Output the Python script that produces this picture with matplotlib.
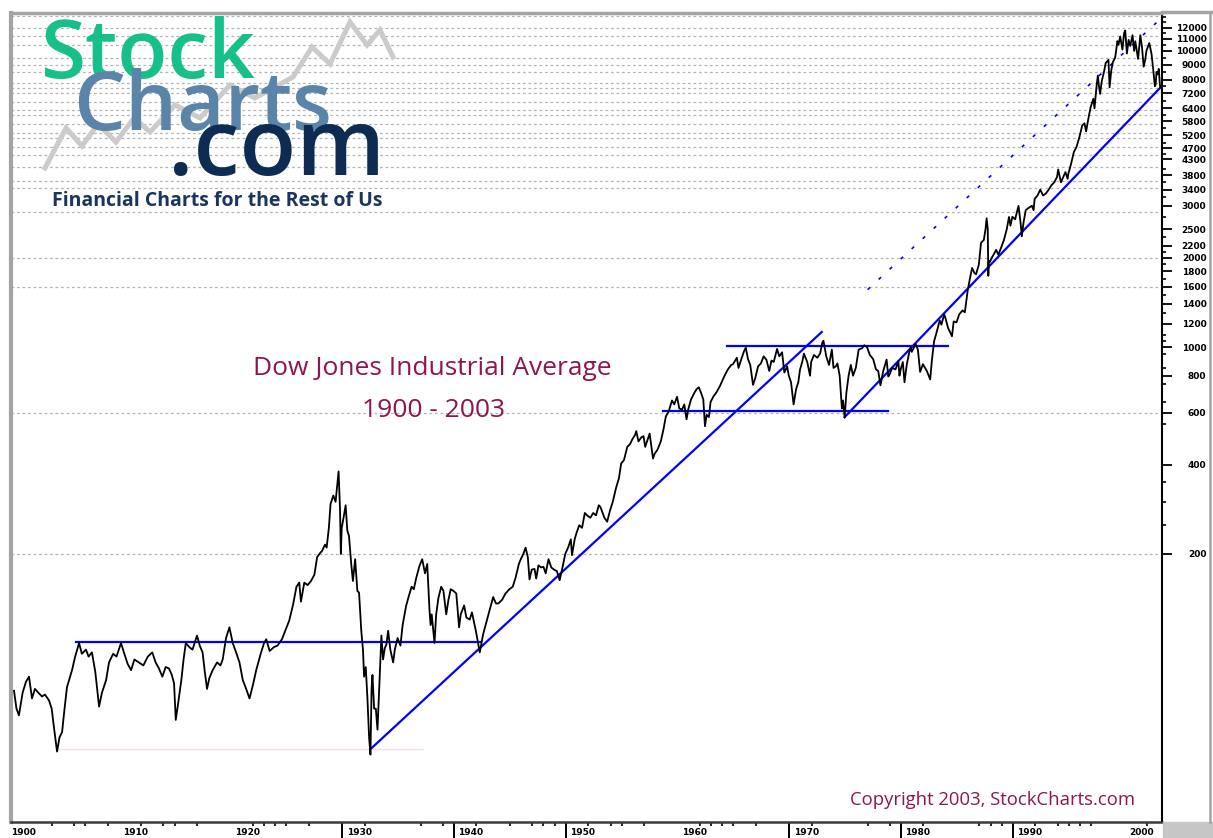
import matplotlib
matplotlib.use("Agg")
import matplotlib.pyplot as plt
import numpy as np
from matplotlib.lines import Line2D
from matplotlib.patches import Rectangle
from matplotlib.ticker import FixedLocator, NullFormatter

W, H = 1213, 838

# Dow Jones Industrial Average: decimal year, close
years = [
    1900.63, 1900.85, 1901.07, 1901.4, 1901.7, 1901.97, 1902.24, 1902.5, 1902.8, 1903.13,
    1903.4, 1903.76, 1904.0, 1904.2, 1904.48, 1904.7, 1904.93, 1905.15, 1905.37, 1905.6,
    1905.82, 1906.1, 1906.45, 1906.7, 1907.07, 1907.3, 1907.6, 1907.9, 1908.24, 1908.5,
    1908.87, 1909.13, 1909.5, 1909.8, 1910.2, 1910.5, 1910.8, 1911.1, 1911.4, 1911.8,
    1912.2, 1912.6, 1913.0, 1913.3, 1913.6, 1913.9, 1914.2, 1914.5, 1914.75, 1914.95,
    1915.1, 1915.3, 1915.6, 1915.8, 1916.0, 1916.3, 1916.6, 1917.0, 1917.25, 1917.5,
    1917.7, 1917.9, 1918.1, 1918.4, 1918.8, 1919.1, 1919.3, 1919.6, 1919.9, 1920.2,
    1920.5, 1920.8, 1921.1, 1921.4, 1921.7, 1922.0, 1922.3, 1922.7, 1923.0, 1923.2,
    1923.5, 1923.9, 1924.2, 1924.6, 1924.9, 1925.25, 1925.6, 1925.9, 1926.15, 1926.3,
    1926.6, 1926.9, 1927.2, 1927.5, 1927.75, 1927.95, 1928.2, 1928.45, 1928.6, 1928.8,
    1928.95, 1929.2, 1929.4, 1929.67, 1929.8, 1929.87, 1929.95, 1930.15, 1930.3, 1930.45,
    1930.6, 1930.8, 1930.95, 1931.15, 1931.35, 1931.5, 1931.7, 1931.85, 1931.95, 1932.1,
    1932.25, 1932.4, 1932.52, 1932.62, 1932.7, 1932.85, 1933.0, 1933.15, 1933.35, 1933.5,
    1933.65, 1933.8, 1933.95, 1934.1, 1934.3, 1934.55, 1934.7, 1934.95, 1935.2, 1935.4,
    1935.7, 1935.95, 1936.2, 1936.4, 1936.6, 1936.9, 1937.15, 1937.4, 1937.6, 1937.8,
    1937.9, 1938.0, 1938.25, 1938.4, 1938.6, 1938.85, 1939.05, 1939.3, 1939.5, 1939.7,
    1939.95, 1940.2, 1940.45, 1940.6, 1940.9, 1941.1, 1941.4, 1941.6, 1941.95, 1942.3,
    1942.6, 1942.9, 1943.2, 1943.5, 1943.75, 1943.95, 1944.3, 1944.6, 1944.95, 1945.25,
    1945.5, 1945.8, 1946.0, 1946.2, 1946.4, 1946.6, 1946.75, 1946.95, 1947.2, 1947.35,
    1947.55, 1947.8, 1948.0, 1948.2, 1948.45, 1948.7, 1948.95, 1949.2, 1949.45, 1949.7,
    1949.95, 1950.2, 1950.45, 1950.55, 1950.8, 1950.95, 1951.2, 1951.45, 1951.7, 1951.95,
    1952.2, 1952.45, 1952.7, 1952.95, 1953.1, 1953.45, 1953.7, 1953.95, 1954.2, 1954.5,
    1954.75, 1954.95, 1955.2, 1955.5, 1955.75, 1955.95, 1956.2, 1956.3, 1956.5, 1956.75,
    1956.95, 1957.1, 1957.5, 1957.8, 1957.95, 1958.2, 1958.5, 1958.75, 1958.95, 1959.2,
    1959.5, 1959.7, 1959.95, 1960.15, 1960.4, 1960.6, 1960.8, 1960.95, 1961.2, 1961.5,
    1961.7, 1961.9, 1962.1, 1962.3, 1962.45, 1962.6, 1962.8, 1962.95, 1963.2, 1963.5,
    1963.8, 1963.95, 1964.2, 1964.5, 1964.8, 1964.95, 1965.3, 1965.45, 1965.7, 1965.95,
    1966.1, 1966.3, 1966.5, 1966.75, 1966.95, 1967.2, 1967.45, 1967.7, 1967.95, 1968.2,
    1968.4, 1968.6, 1968.9, 1969.1, 1969.35, 1969.55, 1969.8, 1969.95, 1970.15, 1970.38,
    1970.6, 1970.8, 1970.95, 1971.15, 1971.3, 1971.6, 1971.85, 1971.95, 1972.2, 1972.5,
    1972.75, 1972.95, 1973.05, 1973.3, 1973.55, 1973.8, 1973.95, 1974.15, 1974.3, 1974.5,
    1974.7, 1974.8, 1974.95, 1975.1, 1975.3, 1975.5, 1975.7, 1975.95, 1976.2, 1976.5,
    1976.7, 1976.95, 1977.2, 1977.5, 1977.75, 1977.95, 1978.15, 1978.4, 1978.7, 1978.85,
    1978.95, 1979.2, 1979.5, 1979.75, 1979.85, 1979.95, 1980.15, 1980.3, 1980.5, 1980.7,
    1980.85, 1980.95, 1981.3, 1981.5, 1981.7, 1981.95, 1982.3, 1982.6, 1982.75, 1982.95,
    1983.2, 1983.45, 1983.6, 1983.85, 1983.95, 1984.2, 1984.55, 1984.7, 1984.95, 1985.2,
    1985.5, 1985.7, 1985.95, 1986.15, 1986.35, 1986.55, 1986.7, 1986.95, 1987.15, 1987.4,
    1987.55, 1987.65, 1987.75, 1987.8, 1987.85, 1987.95, 1988.1, 1988.3, 1988.5, 1988.7,
    1988.95, 1989.2, 1989.45, 1989.65, 1989.78, 1989.95, 1990.2, 1990.5, 1990.7, 1990.8,
    1990.95, 1991.15, 1991.4, 1991.7, 1991.85, 1991.95, 1992.2, 1992.45, 1992.7, 1992.95,
    1993.2, 1993.45, 1993.7, 1993.95, 1994.05, 1994.3, 1994.5, 1994.7, 1994.9, 1994.95,
    1995.2, 1995.45, 1995.7, 1995.95, 1996.2, 1996.4, 1996.55, 1996.75, 1996.95, 1997.2,
    1997.3, 1997.5, 1997.6, 1997.7, 1997.8, 1997.95, 1998.15, 1998.3, 1998.55, 1998.65,
    1998.8, 1998.95, 1999.15, 1999.35, 1999.45, 1999.6, 1999.8, 1999.95, 2000.05, 2000.2,
    2000.35, 2000.5, 2000.7, 2000.85, 2000.95, 2001.2, 2001.4, 2001.55, 2001.7, 2001.85,
    2001.95, 2002.2, 2002.4, 2002.55, 2002.7, 2002.77, 2002.85, 2002.95, 2003.05, 2003.15,
    2003.19,
]
closes = [
    69, 60, 57, 68, 74, 77, 65, 70, 68, 66,
    67, 64, 60, 52, 43, 48, 50, 60, 71, 76,
    81, 90, 100, 92, 95, 90, 93, 80, 61, 68,
    75, 86, 92, 90, 100, 92, 85, 81, 88, 86,
    84, 90, 93, 86, 82, 77, 83, 82, 78, 73,
    55, 62, 75, 88, 100, 97, 95, 106, 98, 93,
    80, 70, 76, 81, 86, 84, 88, 104, 113, 100,
    93, 86, 75, 70, 65, 72, 81, 92, 100, 103,
    94, 97, 98, 103, 110, 119, 135, 155, 160, 138,
    160, 157, 162, 170, 195, 200, 205, 215, 210, 245,
    295, 315, 300, 380, 280, 200, 245, 270, 292, 240,
    230, 185, 162, 192, 150, 148, 110, 95, 77, 83,
    65, 48, 42, 70, 78, 60, 60, 51, 77, 106,
    88, 96, 99, 110, 95, 86, 95, 104, 98, 115,
    133, 144, 155, 152, 165, 182, 192, 172, 185, 130,
    115, 125, 100, 125, 142, 155, 150, 125, 140, 152,
    150, 147, 113, 125, 134, 122, 120, 127, 110, 93,
    107, 118, 130, 143, 136, 136, 140, 147, 152, 155,
    166, 185, 193, 200, 210, 195, 164, 177, 178, 165,
    183, 180, 181, 172, 192, 180, 177, 175, 163, 180,
    200, 210, 224, 198, 225, 235, 250, 245, 275, 269,
    265, 275, 270, 292, 288, 265, 257, 280, 300, 335,
    360, 404, 415, 460, 470, 488, 505, 520, 480, 495,
    500, 460, 510, 420, 436, 450, 480, 530, 583, 605,
    660, 640, 679, 620, 615, 640, 570, 615, 665, 700,
    720, 731, 700, 665, 540, 590, 580, 652, 680, 705,
    740, 762, 800, 840, 870, 874, 920, 850, 910, 969,
    995, 910, 870, 745, 785, 860, 880, 930, 905, 830,
    900, 890, 985, 930, 960, 820, 860, 800, 760, 640,
    720, 760, 838, 890, 950, 890, 800, 890, 940, 920,
    950, 1036, 1050, 930, 870, 980, 850, 860, 880, 800,
    620, 660, 577, 700, 800, 870, 800, 852, 980, 990,
    1014, 1000, 940, 910, 840, 830, 742, 830, 907, 795,
    805, 850, 840, 895, 800, 838, 890, 760, 870, 950,
    1000, 963, 1024, 980, 824, 875, 830, 777, 900, 1046,
    1130, 1230, 1190, 1287, 1258, 1160, 1087, 1220, 1211, 1290,
    1330, 1310, 1546, 1700, 1850, 1780, 1760, 1896, 2250, 2300,
    2500, 2722, 2500, 1740, 1950, 1939, 2000, 2060, 2130, 2050,
    2168, 2300, 2500, 2750, 2570, 2753, 2700, 2999, 2600, 2365,
    2633, 2900, 2950, 3000, 2900, 3168, 3250, 3400, 3250, 3301,
    3400, 3520, 3600, 3754, 3978, 3600, 3750, 3900, 3700, 3834,
    4150, 4550, 4750, 5117, 5600, 5700, 5350, 5900, 6448, 6900,
    6400, 7700, 8259, 7600, 7161, 7908, 8500, 9100, 9337, 7539,
    8600, 9181, 9500, 10800, 10500, 11200, 10100, 11497, 11723, 9800,
    10900, 10400, 11300, 10000, 10787, 9400, 11300, 10300, 8850, 9400,
    10021, 10635, 9800, 8700, 7600, 7700, 8500, 8341, 8700, 7700,
    7524,
]

# trend lines drawn on the chart: ([year, year], [value, value])
flat_1906 = ([1906.2, 1942.4], [101, 101])
flat_1904 = ([1904.5, 1937.2], [44, 44])
rise_1932 = ([1932.6, 1972.9], [44.1, 1124])
rise_1932_ext = [1977.0, 2003.2]
flat_1966 = ([1964.4, 1984.2], [1008, 1008])
flat_1962 = ([1958.65, 1978.8], [608, 608])
rise_1974 = ([1974.95, 2003.16], [580, 7500])

# right axis
y_labels = [12000, 11000, 10000, 9000, 8000, 7200, 6400, 5800, 5200, 4700, 4300,
            3800, 3400, 3000, 2500, 2200, 2000, 1800, 1600, 1400, 1200, 1000,
            800, 600, 400, 200]
y_minor = [13000, 12500, 11500, 10500, 9500, 8500, 7600, 6800, 6100, 5500, 4900,
           4500, 4000, 3600, 3200, 2750, 2350, 2100, 1900, 1700, 1500, 1300, 1100,
           1050, 950, 850, 750, 650, 550, 350, 300, 250]
grid_levels = [200, 600, 1600, 2000, 2850, 3450, 3650, 4050, 4450, 4750, 5100, 5300,
               5650, 6100, 6300, 6700, 7200, 7500, 7800, 8500, 9000, 9500, 10500,
               11200, 12000, 13100]

# bottom axis
decades = [1900, 1910, 1920, 1930, 1940, 1950, 1960, 1970, 1980, 1990, 2000]
decade_bars = [1930, 1940, 1950, 1970, 1980, 1990]
year_ticks = [1904, 1906, 1907, 1909, 1912, 1914, 1915, 1917, 1922, 1923, 1924, 1925,
              1927, 1932, 1937, 1939, 1942, 1945, 1947, 1948, 1949, 1952, 1954, 1955,
              1957, 1962, 1963, 1964, 1965, 1967, 1972, 1977, 1979, 1982, 1987, 1988,
              1989, 1992, 1994, 1995, 1996, 1997, 2002]

# gray zigzag behind the logo, in pixels from the top-left corner
logo_zigzag = [(45, 168), (66, 128), (82, 146), (98, 124), (116, 142), (134, 118),
               (150, 132), (175, 105), (200, 118), (230, 85), (255, 98), (293, 77),
               (312, 47), (330, 64), (350, 22), (367, 45), (380, 30), (393, 57)]

MAROON = "#8e1550"
BLUE = "#0000ff"
SANS = "Open Sans"


def fx(px):
    return px / W


def fy(py):
    return 1 - py / H


fig = plt.figure(figsize=(W / 100, H / 100), dpi=100)
ax = fig.add_axes([fx(11), fy(822), (1162 - 11) / W, (822 - 13) / H])
ax.set_yscale("log")
ax.set_xlim(1900.36, 2003.34)
ax.set_ylim(24.86, 13437)

for lvl in grid_levels:
    ax.axhline(lvl, color="#b4b4b4", lw=0.9, ls=(0, (2.2, 2.2)), zorder=0)

# trend lines
ax.plot(*flat_1904, color="#f6dde3", lw=1, zorder=2)
ax.plot(*flat_1906, color=BLUE, lw=1.6, zorder=2)
ax.plot(*rise_1932, color=BLUE, lw=1.6, zorder=2)
lx, lv = rise_1932
slope = (np.log10(lv[1]) - np.log10(lv[0])) / (lx[1] - lx[0])
ext_v = [10 ** (np.log10(lv[0]) + slope * (t - lx[0])) for t in rise_1932_ext]
ax.plot(rise_1932_ext, ext_v, color=BLUE, lw=1.2, ls=(0, (2, 7)), zorder=2)
ax.plot(*flat_1966, color=BLUE, lw=1.6, zorder=2)
ax.plot(*flat_1962, color=BLUE, lw=1.6, zorder=2)
ax.plot(*rise_1974, color=BLUE, lw=1.6, zorder=2)

ax.plot(years, closes, color="black", lw=1.3, zorder=3)

# spines
ax.spines["left"].set_color("#a4a4a4")
ax.spines["left"].set_linewidth(3)
ax.spines["top"].set_color("#a4a4a4")
ax.spines["top"].set_linewidth(2.5)
ax.spines["right"].set_color("black")
ax.spines["right"].set_linewidth(1.5)
ax.spines["bottom"].set_color("#3a3a3a")
ax.spines["bottom"].set_linewidth(1.8)

# right axis ticks and labels
ax.yaxis.tick_right()
ax.yaxis.set_major_locator(FixedLocator(y_labels))
ax.set_yticklabels([str(v) for v in y_labels])
ax.yaxis.set_minor_locator(FixedLocator(y_minor))
ax.yaxis.set_minor_formatter(NullFormatter())
ax.tick_params(axis="y", which="major", direction="out", length=7, width=1.3,
               pad=25, labelsize=6.5, colors="black")
ax.tick_params(axis="y", which="minor", direction="out", length=3, width=1.2)
for lab in ax.get_yticklabels():
    lab.set_horizontalalignment("right")
    lab.set_fontweight("bold")

# bottom axis
ax.xaxis.set_major_locator(FixedLocator(decade_bars))
ax.xaxis.set_minor_locator(FixedLocator(year_ticks))
ax.set_xticklabels([])
ax.tick_params(axis="x", which="major", direction="out", length=12, width=1.4,
               color="black")
ax.tick_params(axis="x", which="minor", direction="out", length=3, width=1.2,
               color="black")
for d in decades:
    ax.text(d + 1.5, -0.007, str(d), transform=ax.get_xaxis_transform(),
            ha="center", va="top", fontsize=6.5, fontweight="bold", clip_on=False)

# frame pieces outside the axes
fig.add_artist(Line2D([fx(1162), fx(1212)], [fy(12.5), fy(12.5)], color="#a4a4a4",
                      lw=2.5, transform=fig.transFigure))
fig.add_artist(Line2D([fx(1210), fx(1210)], [fy(12), fy(822)], color="#a4a4a4",
                      lw=1.8, transform=fig.transFigure))
fig.add_artist(Rectangle((fx(1163), 0), (1213 - 1163) / W, 16 / H, color="#c6c6c6",
                         transform=fig.transFigure, zorder=1))

# logo
zx = [fx(p[0]) for p in logo_zigzag]
zy = [fy(p[1]) for p in logo_zigzag]
fig.add_artist(Line2D(zx, zy, color="#cbcbcb", lw=3.6, solid_joinstyle="miter",
                      transform=fig.transFigure, zorder=1))
fig.text(fx(41), fy(78), "Stock", fontsize=59, family=SANS, fontweight="semibold",
         color="#17c08b", va="baseline", ha="left")
fig.text(fx(73), fy(130), "Charts", fontsize=59, family=SANS, fontweight="semibold",
         color="#5b85a8", va="baseline", ha="left")
fig.text(fx(168), fy(175), ".com", fontsize=67, family=SANS, fontweight="semibold",
         color="#0e2c52", va="baseline", ha="left")
fig.text(fx(52), fy(206), "Financial Charts for the Rest of Us", fontsize=14,
         family=SANS, fontweight="bold", color="#1a3560", va="baseline", ha="left")

# titles
fig.text(fx(432), fy(375), "Dow Jones Industrial Average", fontsize=19, family=SANS,
         color=MAROON, ha="center", va="baseline")
fig.text(fx(433), fy(417), "1900 - 2003", fontsize=19, family=SANS,
         color=MAROON, ha="center", va="baseline")
fig.text(fx(992), fy(805), "Copyright 2003, StockCharts.com", fontsize=13.3,
         family=SANS, color=MAROON, ha="center", va="baseline")

fig.savefig("out.png", dpi=100, facecolor="white")
